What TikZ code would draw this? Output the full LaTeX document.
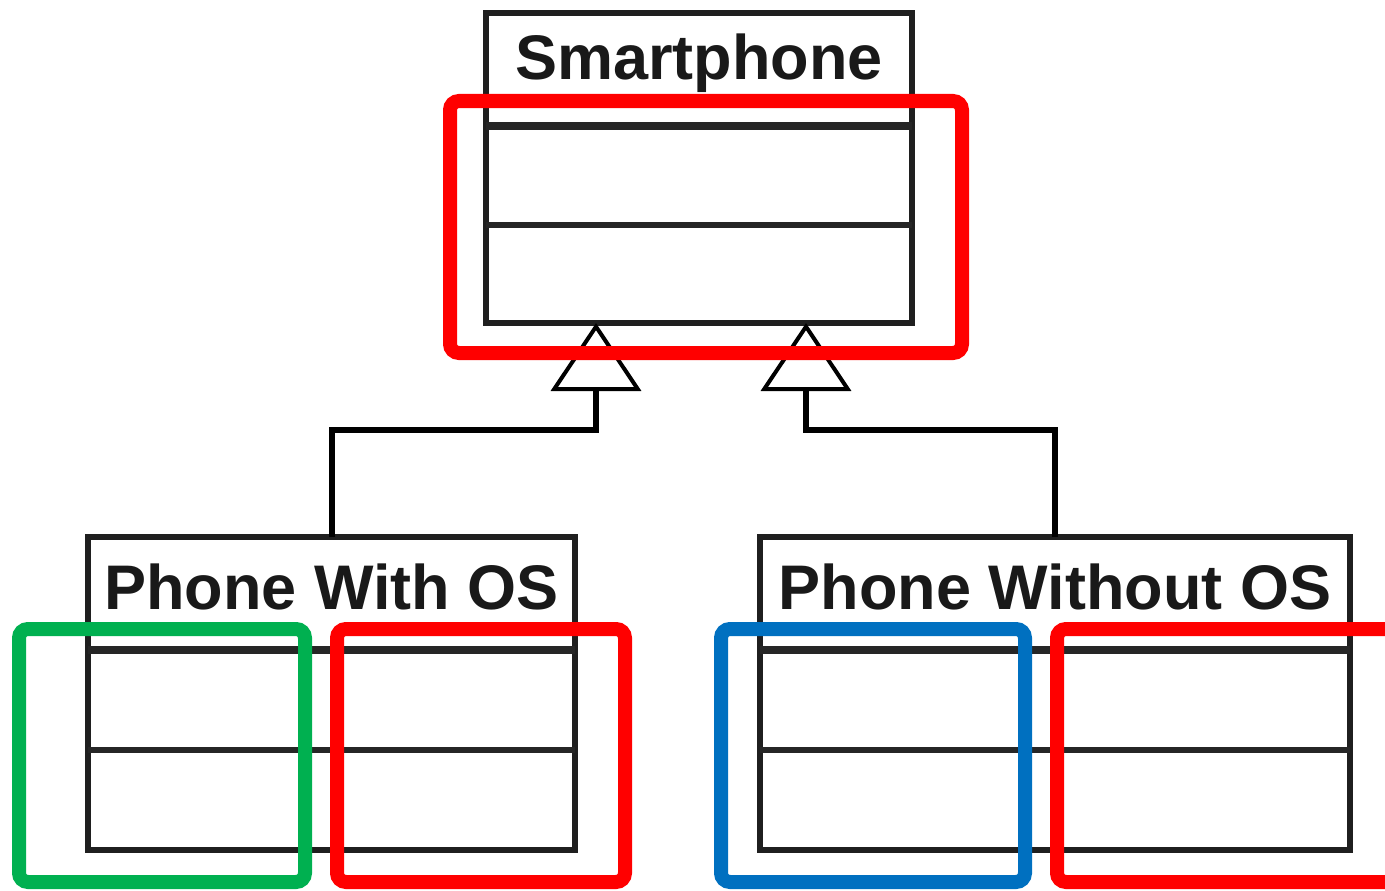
\documentclass[tikz,border=0pt]{standalone}
\usepackage{fontspec}
\setmainfont{Liberation Sans}
\usetikzlibrary{arrows.meta,calc}
\definecolor{markred}{HTML}{FF0000}
\definecolor{markgreen}{HTML}{00B050}
\definecolor{markblue}{HTML}{0070C0}
\begin{document}
\begin{tikzpicture}[x=1pt,y=-1pt,
  classbox/.style={draw=black!88, line width=6pt, fill=white, anchor=north west, inner sep=0pt, outer sep=0pt},
  classname/.style={font=\fontsize{63}{70}\selectfont\bfseries, text=black!90, inner sep=0pt},
  sep/.style={draw=black!85, line width=#1},
  sep/.default=6pt,
  inherit/.style={draw=black, line width=6pt,
    -{Triangle[open, length=68pt, width=90pt, line width=4pt, fill=white]}},
  mark/.style={draw=#1, line width=14pt, rounded corners=9pt}
]
\useasboundingbox (0,0) rectangle (1385,891);

% superclass
\node[classbox, minimum width=426pt, minimum height=310pt] (smart) at (486,13) {};
\node[classname] (smartT) at ($(smart.north)+(0,50)$) {Smartphone};
\draw[sep=8pt] ($(smart.north west)+(0,113)$) -- ($(smart.north east)+(0,113)$);
\draw[sep] ($(smart.north west)+(0,212)$) -- ($(smart.north east)+(0,212)$);

% subclasses
\node[classbox, minimum width=487pt, minimum height=313pt] (withos) at (88,537) {};
\node[classname] (withosT) at ($(withos.north)+(0,50)$) {Phone With OS};
\draw[sep=8pt] ($(withos.north west)+(0,113)$) -- ($(withos.north east)+(0,113)$);
\draw[sep] ($(withos.north west)+(0,213)$) -- ($(withos.north east)+(0,213)$);

\node[classbox, minimum width=590pt, minimum height=313pt] (withoutos) at (760,537) {};
\node[classname] (withoutosT) at ($(withoutos.north)+(0,50)$) {Phone Without OS};
\draw[sep=8pt] ($(withoutos.north west)+(0,113)$) -- ($(withoutos.north east)+(0,113)$);
\draw[sep] ($(withoutos.north west)+(0,213)$) -- ($(withoutos.north east)+(0,213)$);

% generalisation connectors
\coordinate (j1) at (596,430);
\coordinate (j2) at (806,430);
\draw[inherit] (withos.north) |- (j1) -- (j1 |- smart.south);
\draw[inherit] (withoutos.north) |- (j2) -- (j2 |- smart.south);

% highlight frames
\draw[mark=markred] (450,101) rectangle (962,353);
\draw[mark=markgreen] (19,629) rectangle (305,882);
\draw[mark=markred] (337,629) rectangle (625,882);
\draw[mark=markblue] (721,629) rectangle (1025,882);
\draw[mark=markred] (1057,629) rectangle (1420,882);
\end{tikzpicture}
\end{document}
